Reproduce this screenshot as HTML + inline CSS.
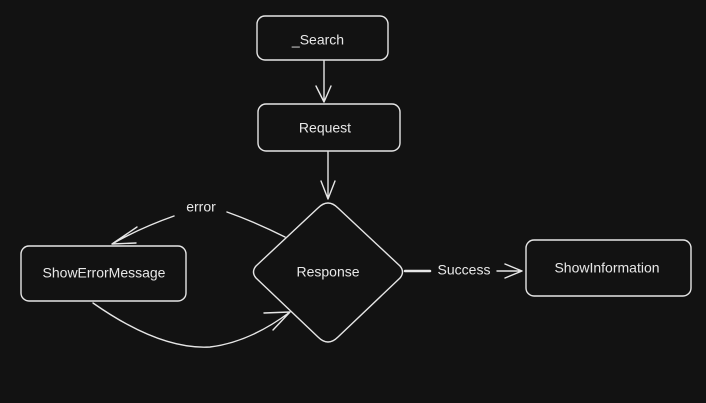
<!DOCTYPE html>
<html><head><style>
html,body{margin:0;padding:0;background:#121212;}
svg{display:block}
text{font-family:"Liberation Sans",sans-serif;fill:#e8e8e8;font-size:14px;text-anchor:middle;dominant-baseline:middle}
</style></head><body>
<svg width="706" height="403" viewBox="0 0 706 403">
<rect width="706" height="403" fill="#121212"/>
<g fill="none" stroke="#e6e6e6" stroke-width="1.4" stroke-linecap="round" stroke-linejoin="round">
<rect x="257" y="16" width="131" height="44" rx="8"/>
<rect x="258" y="104" width="142" height="47" rx="8"/>
<path d="M328 203 Q333 203 338 208 L400 266 Q405 272 400 278 L338 337 Q333 342 328 342 Q323 342 318 337 L256 278 Q251 272 256 266 L318 208 Q323 203 328 203 Z"/>
<rect x="21" y="246" width="165" height="55" rx="8"/>
<rect x="526" y="240" width="165" height="56" rx="8"/>
<path d="M324 61 L324 102 M316 86 L324 102 L331 86"/>
<path d="M328 152 L328 199 M321 181 L328 199 L335 181"/>
<path d="M285 237 Q255 222 227 212"/>
<path d="M174 216 Q140 228 112 244 M137 227 L112 244 L136 243"/>
<path d="M93 303 Q160 350 210 347 Q250 342 290 312 M264 313 L290 312 L273 330"/>
<path d="M405 271 L430 271" stroke-width="2.5"/>
<path d="M497 271 L522 271 M505 264 L522 271 L505 278"/>
</g>
<text x="318" y="41">_Search</text>
<text x="325" y="129">Request</text>
<text x="328" y="273">Response</text>
<text x="104" y="274">ShowErrorMessage</text>
<text x="607" y="269">ShowInformation</text>
<text x="201" y="208">error</text>
<text x="464" y="271">Success</text>
</svg>
</body></html>
